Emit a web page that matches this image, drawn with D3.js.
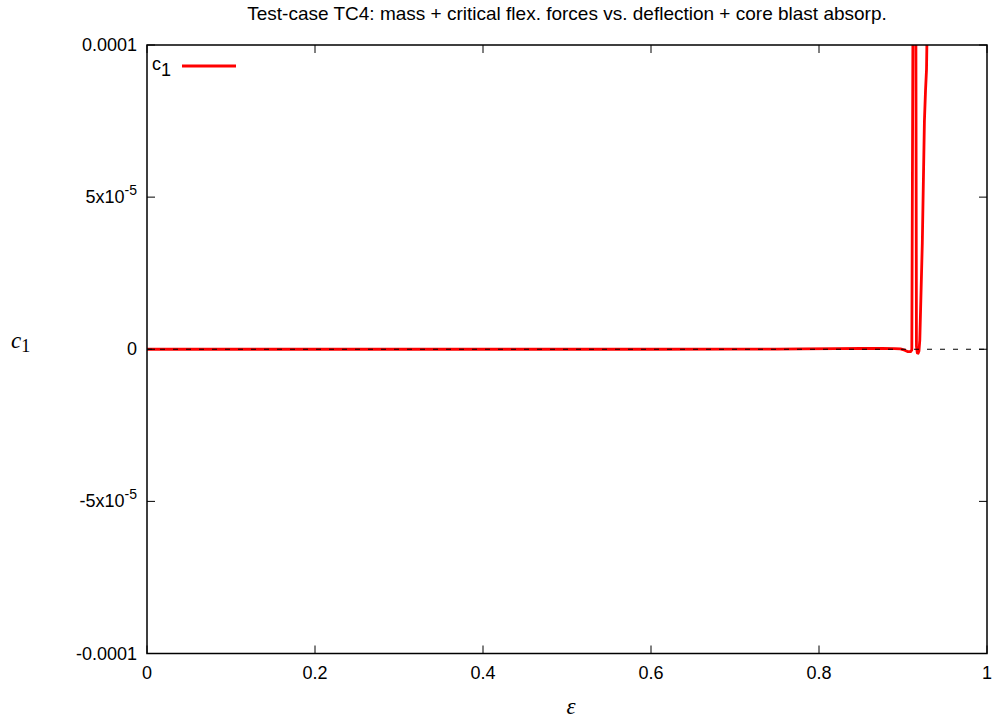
<!DOCTYPE html>
<html>
<head>
<meta charset="utf-8">
<script src="https://cdn.jsdelivr.net/npm/d3@7"></script>
<style>
  html, body { margin: 0; padding: 0; background: #fff; }
  svg { display: block; }
  text { font-family: "Liberation Sans", Arial, sans-serif; }
  text.math { font-family: "Liberation Serif", "DejaVu Serif", serif; }
</style>
</head>
<body>
<svg id="chart" width="996" height="724"></svg>
<script>
// ---- data ----
const titleText = "Test-case TC4: mass + critical flex. forces vs. deflection + core blast absorp.";
const xTicks = [0, 0.2, 0.4, 0.6, 0.8, 1];
const xTickLabels = ["0", "0.2", "0.4", "0.6", "0.8", "1"];
const yTicks = [-1e-4, -5e-5, 0, 5e-5, 1e-4];
const yTickLabels = [["-0.0001", ""], ["-5x10", "-5"], ["0", ""], ["5x10", "-5"], ["0.0001", ""]];
const epsilon = [0, 0.1, 0.2, 0.3, 0.4, 0.5, 0.6, 0.7, 0.75, 0.78, 0.82, 0.85, 0.875, 0.89, 0.897, 0.902, 0.906, 0.909, 0.9105, 0.9125, 0.9150, 0.9160, 0.9170, 0.9180, 0.9190, 0.9200, 0.9230, 0.9255, 0.9268, 0.9280, 0.9295];
const c1 = [0, 0, 0, 0, 0, 0, 0, 1e-8, 3e-8, 1.5e-7, 2e-7, 2.5e-7, 3e-7, 2e-7, 1e-7, -3e-7, -8e-7, -8e-7, -2e-7, 1.6e-4, 1.6e-4, 1e-6, -1.2e-6, -1.3e-6, -6e-7, 3e-6, 3.5e-5, 7.5e-5, 8.5e-5, 9.2e-5, 1.2e-4];
const legendLabel = ["c", "1"];

// ---- layout ----
const svg = d3.select("#chart");
const L = 147, R = 987, T = 45, B = 653.5;
const x = d3.scaleLinear().domain([0, 1]).range([L, R]);
const y = d3.scaleLinear().domain([-1e-4, 1e-4]).range([B, T]);

// title
svg.append("text").attr("x", (L + R) / 2).attr("y", 20).attr("text-anchor", "middle")
  .attr("font-size", 19).text(titleText);

// clip
svg.append("clipPath").attr("id", "clip").append("rect")
  .attr("x", L).attr("y", T).attr("width", R - L).attr("height", B - T);

// curve
const line = d3.line().x((d, i) => x(epsilon[i])).y((d, i) => y(c1[i]));
svg.append("path").datum(c1).attr("clip-path", "url(#clip)")
  .attr("d", line).attr("fill", "none").attr("stroke", "#ff0000")
  .attr("stroke-width", 2.8).attr("stroke-linejoin", "round");

// zero line (dashed), drawn on top
svg.append("line").attr("x1", L).attr("x2", R).attr("y1", y(0)).attr("y2", y(0))
  .attr("stroke", "#000").attr("stroke-width", 1).attr("stroke-dasharray", "5,8");

// ticks (inward, mirrored)
const tk = 8;
const tg = svg.append("g").attr("stroke", "#000").attr("stroke-width", 1);
xTicks.forEach(v => {
  tg.append("line").attr("x1", x(v)).attr("x2", x(v)).attr("y1", B).attr("y2", B - tk);
  tg.append("line").attr("x1", x(v)).attr("x2", x(v)).attr("y1", T).attr("y2", T + tk);
});
yTicks.forEach(v => {
  tg.append("line").attr("x1", L).attr("x2", L + tk).attr("y1", y(v)).attr("y2", y(v));
  tg.append("line").attr("x1", R).attr("x2", R - tk).attr("y1", y(v)).attr("y2", y(v));
});

// frame
svg.append("rect").attr("x", L).attr("y", T).attr("width", R - L).attr("height", B - T)
  .attr("fill", "none").attr("stroke", "#000").attr("stroke-width", 1.5);

// x tick labels
xTicks.forEach((v, i) => {
  svg.append("text").attr("x", x(v)).attr("y", 679).attr("text-anchor", "middle")
    .attr("font-size", 18).text(xTickLabels[i]);
});
// y tick labels
yTicks.forEach((v, i) => {
  const t = svg.append("text").attr("x", 137).attr("y", y(v) + 6).attr("text-anchor", "end")
    .attr("font-size", 18);
  t.append("tspan").text(yTickLabels[i][0]);
  if (yTickLabels[i][1]) {
    t.append("tspan").attr("dy", -8).attr("font-size", 14).text(yTickLabels[i][1]);
  }
});

// axis labels
const yl = svg.append("text").attr("class", "math").attr("x", 11).attr("y", 348)
  .attr("font-size", 23);
yl.append("tspan").attr("font-style", "italic").text("c");
yl.append("tspan").attr("dy", 4).attr("font-size", 18).text("1");

svg.append("text").attr("class", "math").attr("x", 571).attr("y", 714).attr("text-anchor", "middle")
  .attr("font-style", "italic").attr("font-size", 23).text("ε");

// legend
const lg = svg.append("text").attr("x", 152).attr("y", 70).attr("font-size", 18);
lg.append("tspan").text(legendLabel[0]);
lg.append("tspan").attr("dy", 6).attr("font-size", 18).text(legendLabel[1]);
svg.append("line").attr("x1", 182).attr("x2", 236).attr("y1", 66).attr("y2", 66)
  .attr("stroke", "#ff0000").attr("stroke-width", 2.8);
</script>
</body>
</html>
